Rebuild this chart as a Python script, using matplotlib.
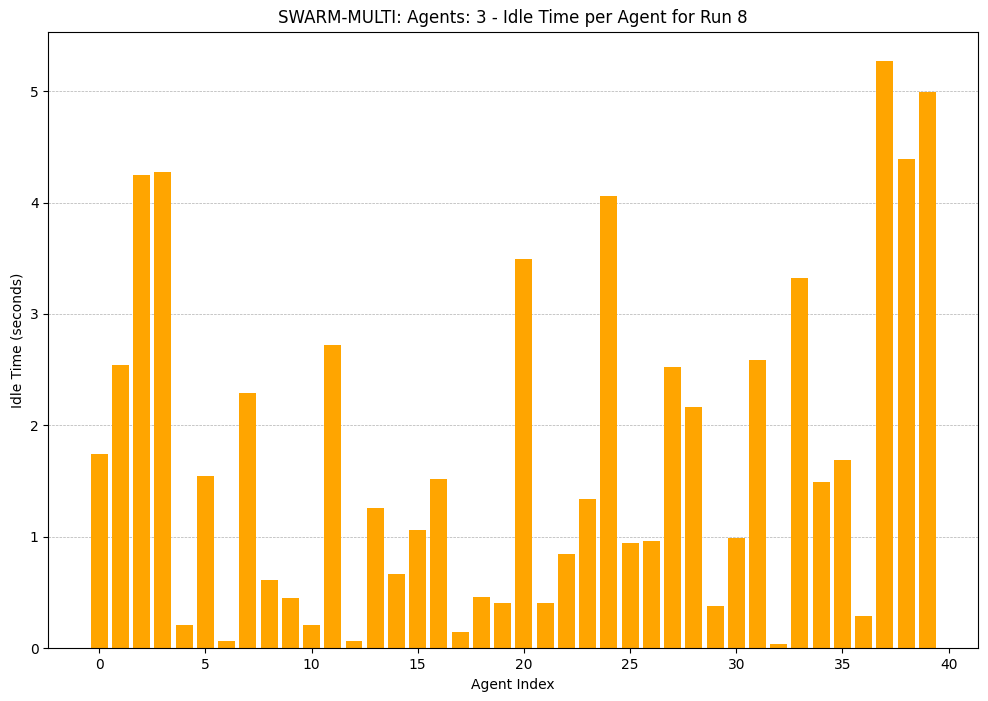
import matplotlib
matplotlib.use('Agg')
import matplotlib.pyplot as plt
import numpy as np

agent_index = np.arange(40)
idle_time = [1.74, 2.54, 4.25, 4.27, 0.21, 1.55, 0.07, 2.29, 0.61, 0.45,
             0.21, 2.72, 0.07, 1.26, 0.67, 1.06, 1.52, 0.15, 0.46, 0.41,
             3.49, 0.41, 0.85, 1.34, 4.06, 0.95, 0.96, 2.52, 2.17, 0.38,
             0.99, 2.59, 0.04, 3.32, 1.49, 1.69, 0.29, 5.27, 4.39, 4.99]

fig, ax = plt.subplots(figsize=(9.88, 7.01), dpi=100)
ax.bar(agent_index, idle_time, color='orange')
ax.set_title('SWARM-MULTI: Agents: 3 - Idle Time per Agent for Run 8')
ax.set_xlabel('Agent Index')
ax.set_ylabel('Idle Time (seconds)')
ax.grid(axis='y', linestyle='--', linewidth=0.5)
ax.set_axisbelow(True)
fig.subplots_adjust(left=0.049, right=0.99, top=0.955, bottom=0.075)
fig.savefig('out.png')
